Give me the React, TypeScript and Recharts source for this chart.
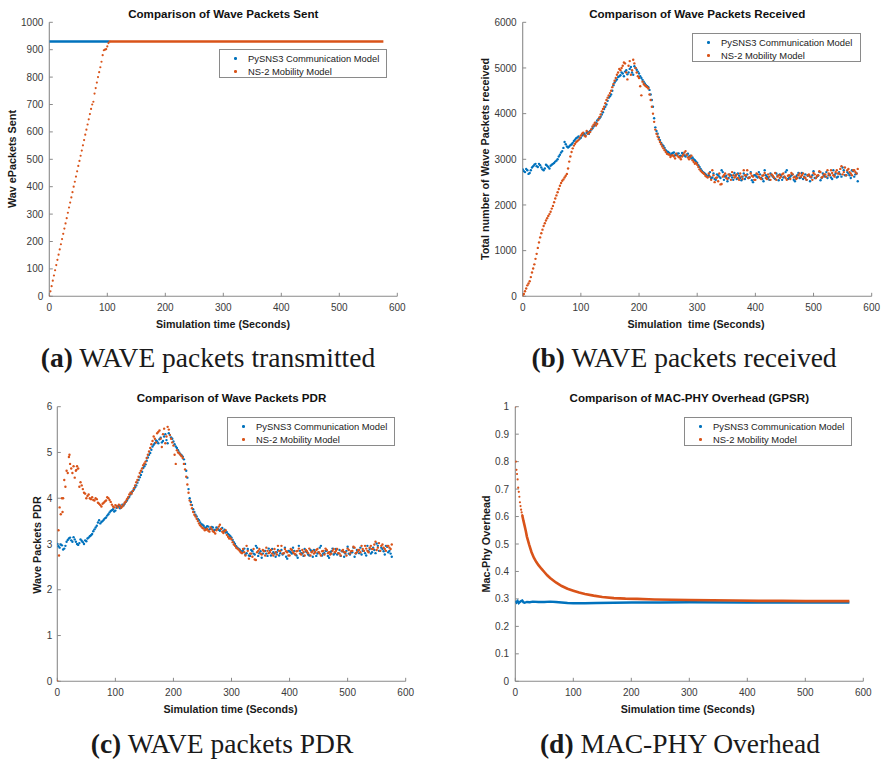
import React from 'react';
import { ScatterChart, Scatter, XAxis, YAxis } from 'recharts';

const BLUE = '#0072BD';
const ORANGE = '#D95319';
const AXIS = '#8a8a8a';
const TICK_TEXT = '#3a3a3a';
const FONT = "'Liberation Sans', Arial, Helvetica, sans-serif";
const SERIF = "'Liberation Serif', 'Times New Roman', serif";

const LEGEND_A = 'PySNS3 Communication Model';
const LEGEND_B = 'NS-2 Mobility Model';

const X_TICKS = [0, 100, 200, 300, 400, 500, 600];
const SENT_TICKS = [0, 100, 200, 300, 400, 500, 600, 700, 800, 900, 1000];
const RECV_TICKS = [0, 1000, 2000, 3000, 4000, 5000, 6000];
const PDR_TICKS = [0, 1, 2, 3, 4, 5, 6];
const OVH_TICKS = [0, 0.1, 0.2, 0.3, 0.4, 0.5, 0.6, 0.7, 0.8, 0.9, 1];

// (a) packets sent
const sentPyTime = [0, 25, 50, 75, 100, 104];
const sentPy = [930, 930, 930, 930, 930, 930];
const sentNsRampTime = [
  0, 2, 4, 6, 8, 10, 12, 14, 16, 18,
  20, 22, 24, 26, 28, 30, 32, 34, 36, 38,
  40, 42, 44, 46, 48, 50, 52, 54, 56, 58,
  60, 62, 64, 66, 68, 70, 72, 74, 76, 78,
  80, 82, 84, 86, 88, 90, 92, 94, 96, 98,
  100, 102, 104,
];
const sentNsRamp = [
  0, 18, 37, 57, 76, 95, 114, 133, 152, 171,
  190, 209, 228, 247, 266, 285, 305, 324, 342, 361,
  380, 400, 418, 437, 456, 476, 494, 513, 532, 551,
  570, 590, 608, 627, 646, 665, 684, 700, 710, 740,
  760, 780, 800, 818, 836, 856, 880, 898, 900, 902,
  912, 924, 930,
];
const sentNsFlatTime = [104, 200, 300, 400, 500, 576];
const sentNsFlat = [930, 930, 930, 930, 930, 930];

// 4-second sampling for (b) and (c), plus the in-between samples
const TIME4 = [
  0, 4, 8, 12, 16, 20, 24, 28, 32, 36,
  40, 44, 48, 52, 56, 60, 64, 68, 72, 76,
  80, 84, 88, 92, 96, 100, 104, 108, 112, 116,
  120, 124, 128, 132, 136, 140, 144, 148, 152, 156,
  160, 164, 168, 172, 176, 180, 184, 188, 192, 196,
  200, 204, 208, 212, 216, 220, 224, 228, 232, 236,
  240, 244, 248, 252, 256, 260, 264, 268, 272, 276,
  280, 284, 288, 292, 296, 300, 304, 308, 312, 316,
  320, 324, 328, 332, 336, 340, 344, 348, 352, 356,
  360, 364, 368, 372, 376, 380, 384, 388, 392, 396,
  400, 404, 408, 412, 416, 420, 424, 428, 432, 436,
  440, 444, 448, 452, 456, 460, 464, 468, 472, 476,
  480, 484, 488, 492, 496, 500, 504, 508, 512, 516,
  520, 524, 528, 532, 536, 540, 544, 548, 552, 556,
  560, 564, 568, 572, 576,
];
const TIME4_MID = [
  2, 6, 10, 14, 18, 22, 26, 30, 34, 38,
  42, 46, 50, 54, 58, 62, 66, 70, 74, 78,
  82, 86, 90, 94, 98, 102, 106, 110, 114, 118,
  122, 126, 130, 134, 138, 142, 146, 150, 154, 158,
  162, 166, 170, 174, 178, 182, 186, 190, 194, 198,
  202, 206, 210, 214, 218, 222, 226, 230, 234, 238,
  242, 246, 250, 254, 258, 262, 266, 270, 274, 278,
  282, 286, 290, 294, 298, 302, 306, 310, 314, 318,
  322, 326, 330, 334, 338, 342, 346, 350, 354, 358,
  362, 366, 370, 374, 378, 382, 386, 390, 394, 398,
  402, 406, 410, 414, 418, 422, 426, 430, 434, 438,
  442, 446, 450, 454, 458, 462, 466, 470, 474, 478,
  482, 486, 490, 494, 498, 502, 506, 510, 514, 518,
  522, 526, 530, 534, 538, 542, 546, 550, 554, 558,
  562, 566, 570, 574,
];

// (b) packets received
const recvPy = [
  2780, 2720, 2760, 2700, 2820, 2880, 2850, 2900, 2820, 2760,
  2880, 2830, 2860, 2900, 2950, 3000, 3100, 3180, 3380, 3280,
  3280, 3330, 3400, 3460, 3500, 3470, 3550, 3520, 3600, 3620,
  3680, 3750, 3850, 3900, 3980, 4100, 4200, 4350, 4420, 4620,
  4720, 4800, 4840, 4880, 4920, 4860, 4980, 4900, 5040, 4960,
  4880, 4780, 4700, 4620, 4580, 4420, 4150, 3700, 3560, 3420,
  3320, 3250, 3170, 3140, 3120, 3150, 3100, 3130, 3080, 3110,
  3060, 3120, 3080, 3040, 2980, 2920, 2830, 2750, 2700, 2650,
  2650, 2590, 2690, 2550, 2650, 2590, 2720, 2620, 2520, 2670,
  2600, 2700, 2570, 2640, 2540, 2690, 2620, 2590, 2720, 2500,
  2650, 2600, 2670, 2570, 2760, 2620, 2550, 2650, 2590, 2690,
  2540, 2640, 2600, 2720, 2570, 2620, 2670, 2520, 2650, 2590,
  2700, 2620, 2550, 2650, 2600, 2740, 2590, 2640, 2540, 2690,
  2620, 2590, 2670, 2570, 2650, 2600, 2720, 2620, 2760, 2650,
  2690, 2590, 2740, 2670, 2520,
];
const recvPyMid = [
  2740, 2790, 2680, 2760, 2850, 2900, 2830, 2870, 2780, 2800,
  2860, 2800, 2880, 2920, 2970, 3060, 3150, 3250, 3330, 3260,
  3310, 3360, 3430, 3480, 3450, 3520, 3560, 3580, 3560, 3650,
  3720, 3800, 3880, 3930, 4030, 4150, 4280, 4380, 4500, 4680,
  4750, 4820, 4900, 4820, 4950, 4900, 5020, 4850, 5000, 4920,
  4820, 4740, 4660, 4600, 4520, 4300, 3900, 3620, 3480, 3360,
  3290, 3200, 3160, 3100, 3140, 3090, 3120, 3070, 3140, 3080,
  3100, 3060, 3020, 3000, 2950, 2870, 2790, 2720, 2680, 2620,
  2720, 2600, 2570, 2670, 2620, 2760, 2550, 2640, 2590, 2650,
  2550, 2650, 2690, 2590, 2620, 2570, 2670, 2600, 2540, 2650,
  2620, 2720, 2590, 2520, 2650, 2590, 2690, 2620, 2570, 2640,
  2670, 2550, 2620, 2760, 2590, 2650, 2550, 2620, 2700, 2600,
  2570, 2670, 2640, 2520, 2650, 2590, 2620, 2720, 2590, 2650,
  2720, 2650, 2600, 2760, 2690, 2620, 2670, 2820, 2650, 2720,
  2650, 2760, 2620, 2690,
];
const recvNs = [
  0, 110, 240, 330, 520, 700, 930, 1180, 1380, 1540,
  1660, 1760, 1850, 1980, 2140, 2280, 2420, 2530, 2600, 2680,
  2950, 3160, 3300, 3380, 3420, 3520, 3580, 3500, 3560, 3600,
  3720, 3800, 3780, 3920, 4050, 4150, 4300, 4400, 4500, 4650,
  4780, 4900, 4950, 5050, 5100, 4750, 5150, 4950, 5100, 4900,
  4780, 4400, 4650, 4600, 4550, 4300, 4000, 3650, 3500, 3380,
  3280, 3200, 3120, 3100, 3080, 3060, 3120, 3050, 3000, 3100,
  3180, 3040, 3050, 2980, 2900, 2880, 2780, 2720, 2680, 2620,
  2690, 2550, 2650, 2590, 2520, 2450, 2620, 2690, 2570, 2640,
  2720, 2600, 2670, 2550, 2620, 2760, 2650, 2590, 2690, 2620,
  2550, 2670, 2590, 2640, 2700, 2570, 2620, 2670, 2600, 2550,
  2650, 2620, 2690, 2590, 2640, 2570, 2670, 2620, 2590, 2690,
  2650, 2600, 2550, 2670, 2620, 2700, 2590, 2650, 2720, 2620,
  2670, 2760, 2650, 2700, 2620, 2760, 2690, 2850, 2720, 2650,
  2790, 2690, 2760, 2720, 2790,
];
const recvNsMid = [
  50, 170, 280, 420, 610, 820, 1060, 1290, 1460, 1600,
  1710, 1800, 1920, 2060, 2210, 2350, 2480, 2560, 2640, 2800,
  3060, 3240, 3340, 3400, 3470, 3560, 3520, 3620, 3580, 3660,
  3760, 3740, 3860, 3980, 4100, 4230, 4350, 4450, 4580, 4720,
  4850, 4980, 5000, 5120, 4900, 5050, 4850, 5180, 5000, 4820,
  4600, 4700, 4620, 4580, 4420, 4150, 3820, 3560, 3440, 3330,
  3240, 3160, 3110, 3050, 3090, 3020, 3080, 3040, 3060, 3150,
  3100, 3000, 3080, 2940, 2920, 2830, 2750, 2700, 2640, 2600,
  2620, 2760, 2500, 2600, 2690, 2460, 2650, 2590, 2670, 2550,
  2650, 2620, 2590, 2690, 2570, 2650, 2760, 2600, 2640, 2550,
  2690, 2620, 2570, 2650, 2590, 2670, 2550, 2640, 2700, 2620,
  2590, 2670, 2620, 2550, 2650, 2700, 2600, 2570, 2650, 2620,
  2690, 2590, 2650, 2620, 2550, 2670, 2640, 2740, 2600, 2670,
  2620, 2690, 2760, 2650, 2720, 2690, 2790, 2670, 2820, 2760,
  2720, 2650, 2760, 2690,
];

// (c) PDR
const pdrPy = [
  3.0, 2.92, 2.97, 2.9, 3.05, 3.12, 3.08, 3.15, 3.05, 2.98,
  3.1, 3.04, 3.08, 3.12, 3.17, 3.22, 3.32, 3.4, 3.52, 3.48,
  3.53, 3.58, 3.65, 3.72, 3.76, 3.73, 3.82, 3.78, 3.86, 3.88,
  3.95, 4.03, 4.13, 4.19, 4.28, 4.4, 4.51, 4.66, 4.74, 4.89,
  4.99, 5.13, 5.2, 5.24, 5.29, 5.22, 5.35, 5.27, 5.42, 5.33,
  5.24, 5.13, 5.05, 4.96, 4.91, 4.75, 4.45, 4.0, 3.85, 3.7,
  3.6, 3.52, 3.43, 3.4, 3.35, 3.38, 3.33, 3.36, 3.31, 3.34,
  3.29, 3.35, 3.31, 3.26, 3.2, 3.14, 3.04, 2.95, 2.9, 2.85,
  2.85, 2.77, 2.89, 2.74, 2.84, 2.77, 2.92, 2.8, 2.7, 2.85,
  2.79, 2.9, 2.75, 2.82, 2.72, 2.87, 2.8, 2.77, 2.92, 2.68,
  2.84, 2.79, 2.85, 2.75, 2.96, 2.8, 2.74, 2.84, 2.77, 2.87,
  2.72, 2.82, 2.79, 2.92, 2.75, 2.8, 2.85, 2.7, 2.84, 2.77,
  2.89, 2.8, 2.74, 2.84, 2.79, 2.94, 2.77, 2.82, 2.72, 2.87,
  2.8, 2.77, 2.85, 2.75, 2.84, 2.79, 2.92, 2.8, 2.96, 2.85,
  2.89, 2.77, 2.94, 2.85, 2.72,
];
const pdrPyMid = [
  2.95, 2.99, 2.88, 2.96, 3.09, 3.14, 3.05, 3.1, 3.0, 3.02,
  3.07, 3.0, 3.06, 3.14, 3.19, 3.28, 3.36, 3.47, 3.45, 3.5,
  3.56, 3.62, 3.69, 3.74, 3.71, 3.79, 3.83, 3.81, 3.84, 3.92,
  4.0, 4.08, 4.16, 4.24, 4.34, 4.46, 4.58, 4.7, 4.82, 4.95,
  5.06, 5.17, 5.26, 5.2, 5.32, 5.25, 5.4, 5.2, 5.38, 5.3,
  5.18, 5.1, 5.0, 4.94, 4.85, 4.6, 4.2, 3.92, 3.76, 3.64,
  3.55, 3.47, 3.42, 3.36, 3.39, 3.32, 3.37, 3.3, 3.36, 3.31,
  3.33, 3.28, 3.25, 3.22, 3.17, 3.09, 3.0, 2.92, 2.88, 2.82,
  2.9, 2.8, 2.75, 2.87, 2.79, 2.96, 2.74, 2.84, 2.79, 2.85,
  2.74, 2.85, 2.89, 2.79, 2.82, 2.75, 2.87, 2.8, 2.72, 2.85,
  2.82, 2.92, 2.77, 2.7, 2.85, 2.79, 2.89, 2.82, 2.75, 2.84,
  2.87, 2.74, 2.82, 2.96, 2.79, 2.85, 2.74, 2.82, 2.9, 2.8,
  2.77, 2.87, 2.84, 2.72, 2.85, 2.79, 2.82, 2.92, 2.79, 2.85,
  2.92, 2.85, 2.8, 2.96, 2.89, 2.82, 2.87, 3.01, 2.85, 2.92,
  2.84, 2.96, 2.82, 2.79,
];
const pdrNs = [
  0, 3.8, 4.0, 4.4, 4.6, 4.9, 4.65, 4.7, 4.6, 4.65,
  4.35, 4.2, 4.1, 4.05, 4.0, 4.02, 3.95, 3.98, 3.88, 3.82,
  3.9, 3.95, 4.0, 3.92, 3.82, 3.85, 3.8, 3.84, 3.82, 3.9,
  3.98, 4.08, 4.1, 4.22, 4.35, 4.47, 4.6, 4.72, 4.8, 4.95,
  5.1, 5.25, 5.3, 5.42, 5.48, 5.12, 5.52, 5.35, 5.5, 5.3,
  5.15, 4.75, 5.0, 4.95, 4.88, 4.63, 4.3, 3.95, 3.78, 3.64,
  3.55, 3.45, 3.38, 3.34, 3.31, 3.29, 3.36, 3.28, 3.23, 3.33,
  3.42, 3.27, 3.28, 3.2, 3.12, 3.1, 2.99, 2.92, 2.88, 2.82,
  2.89, 2.75, 2.85, 2.79, 2.72, 2.66, 2.82, 2.89, 2.77, 2.84,
  2.92, 2.8, 2.87, 2.75, 2.82, 2.96, 2.85, 2.79, 2.89, 2.82,
  2.75, 2.87, 2.79, 2.84, 2.9, 2.77, 2.82, 2.87, 2.8, 2.75,
  2.85, 2.82, 2.89, 2.79, 2.84, 2.77, 2.87, 2.82, 2.79, 2.89,
  2.85, 2.8, 2.75, 2.87, 2.82, 2.9, 2.79, 2.85, 2.92, 2.82,
  2.87, 2.96, 2.85, 2.9, 2.82, 2.96, 2.89, 3.05, 2.92, 2.85,
  2.99, 2.89, 2.96, 2.92, 2.99,
];
const pdrNsMid = [
  3.3, 3.65, 4.0, 4.25, 4.55, 4.75, 4.55, 4.45, 4.7, 4.25,
  4.28, 4.12, 4.0, 4.08, 3.98, 3.96, 4.0, 3.9, 3.85, 3.88,
  3.93, 4.02, 3.96, 3.86, 3.8, 3.83, 3.86, 3.79, 3.86, 3.93,
  4.02, 4.12, 4.16, 4.28, 4.4, 4.55, 4.65, 4.76, 4.88, 5.02,
  5.18, 5.35, 5.22, 5.45, 5.3, 5.4, 5.2, 5.56, 5.38, 5.22,
  4.95, 5.05, 4.98, 4.92, 4.75, 4.47, 4.12, 3.86, 3.7, 3.6,
  3.5, 3.41, 3.35, 3.3, 3.33, 3.27, 3.32, 3.26, 3.3, 3.38,
  3.33, 3.24, 3.3, 3.16, 3.13, 3.04, 2.96, 2.9, 2.85, 2.8,
  2.82, 2.96, 2.68, 2.79, 2.89, 2.65, 2.85, 2.79, 2.87, 2.75,
  2.85, 2.82, 2.79, 2.89, 2.77, 2.85, 2.96, 2.8, 2.84, 2.75,
  2.89, 2.82, 2.77, 2.85, 2.79, 2.87, 2.75, 2.84, 2.9, 2.82,
  2.79, 2.87, 2.82, 2.75, 2.85, 2.9, 2.8, 2.77, 2.85, 2.82,
  2.89, 2.79, 2.85, 2.82, 2.75, 2.87, 2.84, 2.94, 2.8, 2.87,
  2.82, 2.89, 2.96, 2.85, 2.92, 2.89, 2.99, 2.87, 3.02, 2.96,
  2.92, 2.85, 2.96, 2.89,
];
const pdrNsExtraTime = [3, 9, 21, 33];
const pdrNsExtra = [2.75, 3.7, 4.95, 4.62];

// (d) MAC-PHY overhead
const ovhPyTime = [0, 2, 4, 6, 8, 10, 12, 14, 16, 20, 25, 30, 40, 50, 60, 70, 80, 90, 100, 120, 140, 170, 200, 250, 300, 400, 500, 576];
const ovhPy = [0.293, 0.287, 0.292, 0.285, 0.289, 0.292, 0.294, 0.288, 0.286, 0.289, 0.288, 0.29, 0.289, 0.289, 0.29, 0.289, 0.287, 0.285, 0.284, 0.284, 0.285, 0.286, 0.287, 0.287, 0.288, 0.287, 0.287, 0.287];
const ovhNsDotTime = [0, 1, 2, 3, 4, 5, 6, 7, 8, 9, 10, 11, 12];
const ovhNsDot = [1.0, 0.8, 0.77, 0.755, 0.735, 0.705, 0.69, 0.672, 0.652, 0.638, 0.625, 0.615, 0.605];
const ovhNsCurveTime = [12, 14, 16, 18, 20, 24, 28, 32, 36, 40, 45, 50, 55, 60, 70, 80, 90, 100, 110, 120, 135, 150, 170, 190, 210, 240, 270, 300, 340, 380, 420, 460, 500, 540, 576];
const ovhNsCurve = [0.605, 0.585, 0.567, 0.548, 0.527, 0.497, 0.47, 0.45, 0.435, 0.423, 0.41, 0.398, 0.386, 0.376, 0.36, 0.347, 0.337, 0.33, 0.323, 0.318, 0.312, 0.307, 0.303, 0.301, 0.3, 0.298, 0.297, 0.296, 0.295, 0.294, 0.293, 0.293, 0.292, 0.292, 0.292];

const pts = (ts: number[], vs: number[]) => ts.map((t, i) => ({ t, v: vs[i] }));

const dot = (color: string, r = 1.2) => (p: any) =>
  p && p.cx != null && p.cy != null ? <circle cx={p.cx} cy={p.cy} r={r} fill={color} /> : <g />;
const noDot = () => <g />;

type Box = { l: number; r: number; t: number; b: number };

function Panel(props: {
  left: number; top: number; width: number; height: number;
  plot: Box; yDomain: [number, number]; yTicks: number[];
  title: string; xLabel: string; yLabel: string;
  titleY: number; xLabelY: number; xLabelX: number; yLabelX: number; yLabelY: number;
  legend: Box; yTickMargin: number;
  children: React.ReactNode;
}) {
  const { left, top, width, height, plot } = props;
  const pl = plot.l - left;
  const pr = plot.r - left;
  const pt = plot.t - top;
  const pb = plot.b - top;
  const xAxisH = 30;
  const axisLine = { stroke: AXIS, strokeWidth: 1.1 };
  const tickLine = { stroke: AXIS, strokeWidth: 1 };
  const tickStyle = { fontSize: 10, fill: TICK_TEXT, fontFamily: FONT };
  const lg = props.legend;
  return (
    <div style={{ position: 'absolute', left, top, width, height }}>
      <ScatterChart
        width={width}
        height={height}
        margin={{ top: pt, right: width - pr, bottom: height - pb - xAxisH, left: 0 }}
      >
        <XAxis xAxisId={0} type="number" dataKey="t" domain={[0, 600]} ticks={X_TICKS} interval={0}
          allowDataOverflow height={xAxisH} tickSize={-3.5} tickMargin={10.9}
          axisLine={axisLine} tickLine={tickLine} tick={tickStyle} />
        <XAxis xAxisId="top" orientation="top" type="number" dataKey="t" domain={[0, 600]} ticks={X_TICKS}
          interval={0} allowDataOverflow height={0} tickSize={-3.5} tick={false}
          axisLine={axisLine} tickLine={tickLine} />
        <YAxis yAxisId={0} type="number" dataKey="v" domain={props.yDomain} ticks={props.yTicks} interval={0}
          allowDataOverflow width={pl} tickSize={-3.5} tickMargin={props.yTickMargin}
          axisLine={axisLine} tickLine={tickLine} tick={tickStyle} />
        <YAxis yAxisId="right" orientation="right" type="number" dataKey="v" domain={props.yDomain}
          ticks={props.yTicks} interval={0} allowDataOverflow width={0} tickSize={-3.5} tick={false}
          axisLine={axisLine} tickLine={tickLine} />
        {props.children}
      </ScatterChart>
      <div style={{
        position: 'absolute', left: (pl + pr) / 2, top: props.titleY - top, transform: 'translate(-50%,-50%)',
        fontFamily: FONT, fontWeight: 'bold', fontSize: 11.6, lineHeight: 1, whiteSpace: 'nowrap', color: '#111',
      }}>{props.title}</div>
      <div style={{
        position: 'absolute', left: props.xLabelX - left, top: props.xLabelY - top, transform: 'translate(-50%,-50%)',
        fontFamily: FONT, fontWeight: 'bold', fontSize: 10.7, lineHeight: 1, whiteSpace: 'pre', color: '#1a1a1a',
      }}>{props.xLabel}</div>
      <div style={{
        position: 'absolute', left: props.yLabelX - left, top: props.yLabelY - top,
        transform: 'translate(-50%,-50%) rotate(-90deg)',
        fontFamily: FONT, fontWeight: 'bold', fontSize: 10.8, lineHeight: 1, whiteSpace: 'pre', color: '#1a1a1a',
      }}>{props.yLabel}</div>
      <div style={{
        position: 'absolute', left: lg.l - left, top: lg.t - top, width: lg.r - lg.l, height: lg.b - lg.t,
        boxSizing: 'border-box', border: `1px solid ${AXIS}`, background: '#fff',
        fontFamily: FONT, fontSize: 9.4, color: '#222',
      }}>
        {[{ c: BLUE, s: LEGEND_A, y: 8.7 }, { c: ORANGE, s: LEGEND_B, y: 21.5 }].map((row) => (
          <React.Fragment key={row.s}>
            <div style={{
              position: 'absolute', left: 14, top: row.y - 1.3, width: 2.6, height: 2.6,
              borderRadius: '50%', background: row.c,
            }} />
            <div style={{
              position: 'absolute', left: 28, top: row.y, transform: 'translateY(-50%)', lineHeight: 1,
              whiteSpace: 'nowrap',
            }}>{row.s}</div>
          </React.Fragment>
        ))}
      </div>
    </div>
  );
}

function Caption({ x, y, tag, text }: { x: number; y: number; tag: string; text: string }) {
  return (
    <div style={{
      position: 'absolute', left: x, top: y, transform: 'translate(-50%,-50%)', whiteSpace: 'nowrap',
      fontFamily: SERIF, fontSize: 27.5, lineHeight: 1, color: '#1a1a1a',
    }}>
      <b>{tag}</b> {text}
    </div>
  );
}

export default function App() {
  return (
    <div style={{ position: 'absolute', left: 0, top: 0, width: 881, height: 761, background: '#fff', overflow: 'hidden' }}>
      <Panel left={0} top={0} width={440} height={340}
        plot={{ l: 49.3, r: 397.3, t: 22.3, b: 296.3 }} yDomain={[0, 1000]} yTicks={SENT_TICKS}
        title="Comparison of Wave Packets Sent" xLabel="Simulation time (Seconds)" yLabel="Wav ePackets Sent"
        titleY={14} xLabelX={223} xLabelY={324} yLabelX={11.7} yLabelY={159}
        legend={{ l: 219, r: 387, t: 49, b: 78 }} yTickMargin={9.5}>
        <Scatter data={pts(sentPyTime, sentPy)} fill={BLUE} line={{ stroke: BLUE, strokeWidth: 2.4 }}
          shape={noDot} isAnimationActive={false} />
        <Scatter data={pts(sentNsRampTime, sentNsRamp)} fill={ORANGE} shape={dot(ORANGE, 1.1)} isAnimationActive={false} />
        <Scatter data={pts(sentNsFlatTime, sentNsFlat)} fill={ORANGE} line={{ stroke: ORANGE, strokeWidth: 2.4 }}
          shape={noDot} isAnimationActive={false} />
      </Panel>

      <Panel left={440} top={0} width={441} height={340}
        plot={{ l: 522.7, r: 871.7, t: 22.3, b: 296.3 }} yDomain={[0, 6000]} yTicks={RECV_TICKS}
        title="Comparison of Wave Packets Received" xLabel="Simulation  time (Seconds)"
        yLabel="Total number of Wave Packets received"
        titleY={14} xLabelX={696} xLabelY={324} yLabelX={485} yLabelY={159.3}
        legend={{ l: 692, r: 861, t: 33, b: 62 }} yTickMargin={9.5}>
        <Scatter data={pts(TIME4, recvPy)} fill={BLUE} shape={dot(BLUE)} isAnimationActive={false} />
        <Scatter data={pts(TIME4_MID, recvPyMid)} fill={BLUE} shape={dot(BLUE)} isAnimationActive={false} />
        <Scatter data={pts(TIME4, recvNs)} fill={ORANGE} shape={dot(ORANGE)} isAnimationActive={false} />
        <Scatter data={pts(TIME4_MID, recvNsMid)} fill={ORANGE} shape={dot(ORANGE)} isAnimationActive={false} />
      </Panel>

      <Panel left={0} top={380} width={440} height={340}
        plot={{ l: 57.3, r: 405.7, t: 406.7, b: 681.3 }} yDomain={[0, 6]} yTicks={PDR_TICKS}
        title="Comparison of Wave Packets PDR" xLabel="Simulation time (Seconds)" yLabel="Wave Packets PDR"
        titleY={398.3} xLabelX={230.5} xLabelY={709.3} yLabelX={37.4} yLabelY={545}
        legend={{ l: 227, r: 395, t: 417, b: 446 }} yTickMargin={8.5}>
        <Scatter data={pts(TIME4, pdrPy)} fill={BLUE} shape={dot(BLUE)} isAnimationActive={false} />
        <Scatter data={pts(TIME4_MID, pdrPyMid)} fill={BLUE} shape={dot(BLUE)} isAnimationActive={false} />
        <Scatter data={pts(TIME4, pdrNs)} fill={ORANGE} shape={dot(ORANGE)} isAnimationActive={false} />
        <Scatter data={pts(TIME4_MID, pdrNsMid)} fill={ORANGE} shape={dot(ORANGE)} isAnimationActive={false} />
        <Scatter data={pts(pdrNsExtraTime, pdrNsExtra)} fill={ORANGE} shape={dot(ORANGE)} isAnimationActive={false} />
      </Panel>

      <Panel left={440} top={380} width={441} height={340}
        plot={{ l: 515.3, r: 863.3, t: 406.7, b: 681.3 }} yDomain={[0, 1]} yTicks={OVH_TICKS}
        title="Comparison of MAC-PHY Overhead (GPSR)" xLabel="Simulation time (Seconds)" yLabel="Mac-Phy Overhead"
        titleY={398.3} xLabelX={687.8} xLabelY={709.3} yLabelX={486.4} yLabelY={544}
        legend={{ l: 684, r: 852, t: 417, b: 446 }} yTickMargin={9.8}>
        <Scatter data={pts(ovhPyTime, ovhPy)} fill={BLUE} line={{ stroke: BLUE, strokeWidth: 2.4 }}
          shape={noDot} isAnimationActive={false} />
        <Scatter data={pts(ovhNsDotTime, ovhNsDot)} fill={ORANGE} shape={dot(ORANGE, 1.1)} isAnimationActive={false} />
        <Scatter data={pts(ovhNsCurveTime, ovhNsCurve)} fill={ORANGE} line={{ stroke: ORANGE, strokeWidth: 2.6 }}
          shape={noDot} isAnimationActive={false} />
      </Panel>

      <Caption x={208} y={358} tag="(a)" text="WAVE packets transmitted" />
      <Caption x={684} y={358} tag="(b)" text="WAVE packets received" />
      <Caption x={222} y={744} tag="(c)" text="WAVE packets PDR" />
      <Caption x={680} y={744} tag="(d)" text="MAC-PHY Overhead" />
    </div>
  );
}
